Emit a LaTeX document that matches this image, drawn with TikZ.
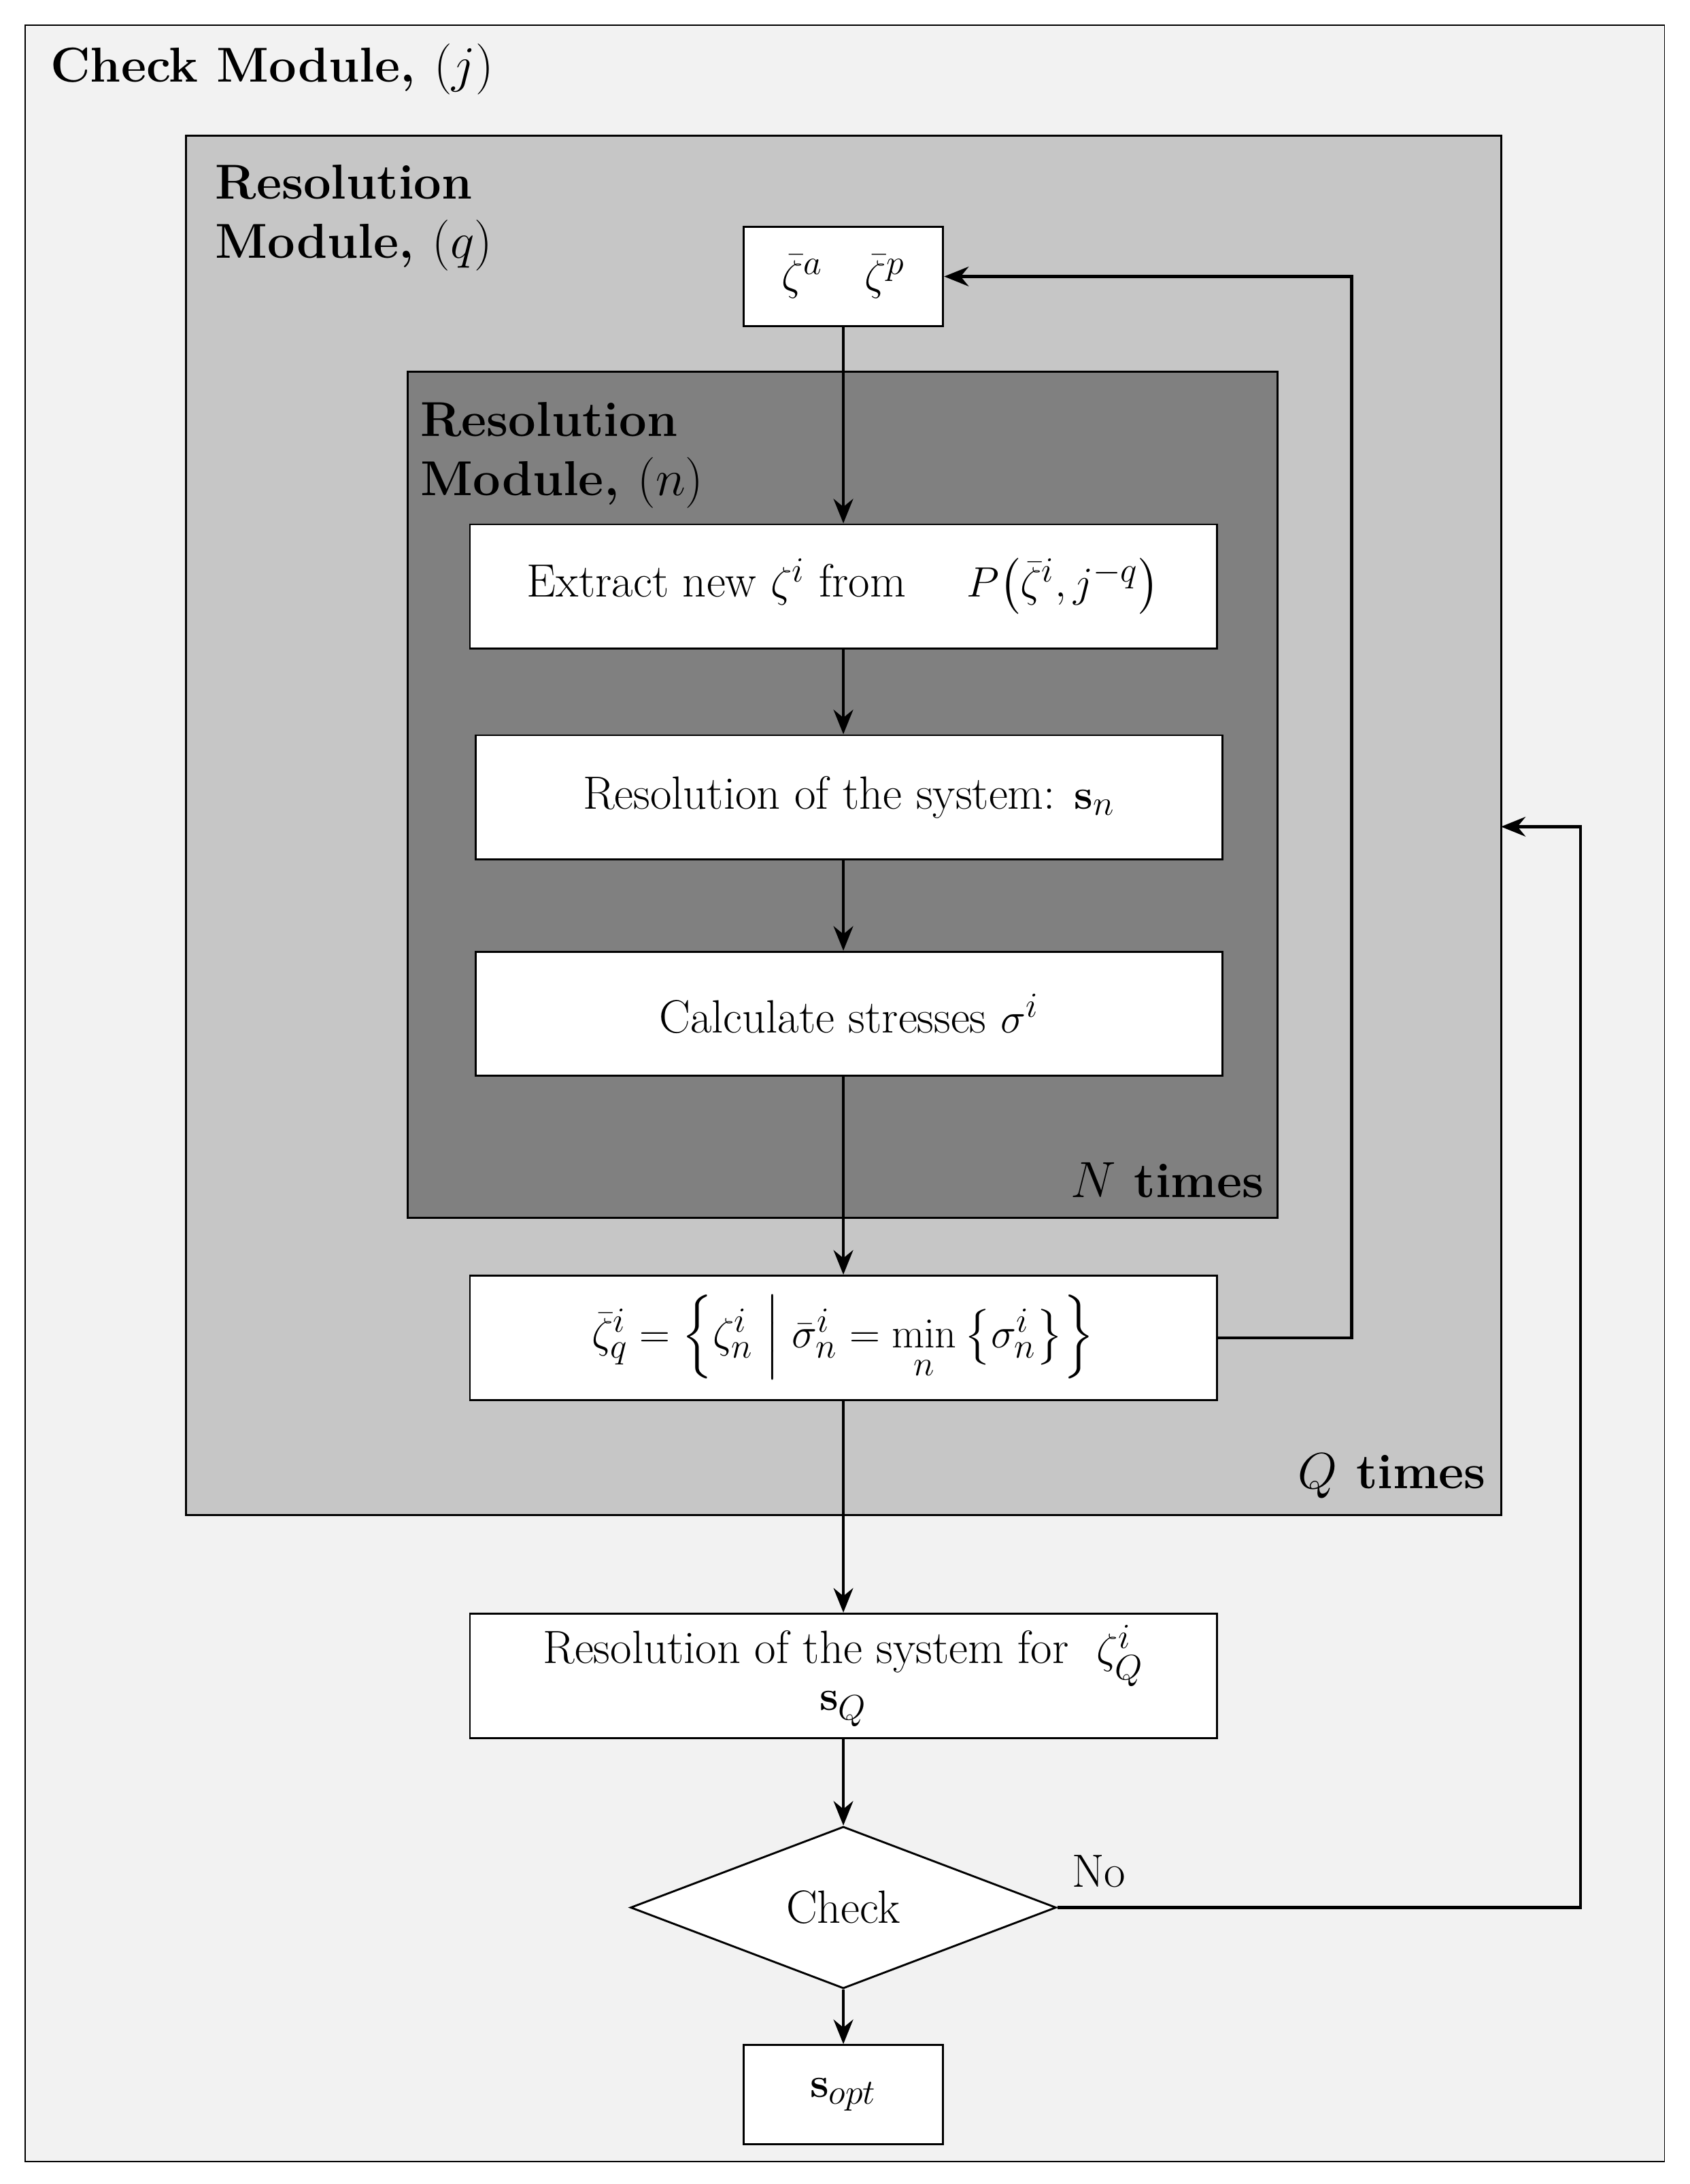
\documentclass[tikz,border=0pt]{standalone}
\usepackage{amsmath}
\usepackage{amssymb}
\usepackage{xcolor}
\usetikzlibrary{arrows.meta, shapes.geometric, positioning, calc}
\begin{document}
\begin{tikzpicture}[
      x=0.02cm, y=-0.02cm,
      >=Stealth,
      font=\fontsize{19}{23}\selectfont,
      blk/.style={draw, thick, fill=white, minimum width=10.7cm, minimum height=1.78cm, align=center, inner sep=2pt},
      sml/.style={draw, thick, fill=white, minimum width=2.86cm, minimum height=1.42cm, inner sep=2pt},
      arr/.style={->, very thick, >={Stealth[length=10pt,width=8pt]}},
      lbl/.style={anchor=north west, align=left, font=\fontsize{20}{24}\selectfont\bfseries}
    ]
    \useasboundingbox (0,0) rectangle (1210,1564);
    % --- Module frames ---
    \draw[fill=gray!10] (18,18) rectangle (1192,1548);
    \draw[thick, fill=gray!45] (133,97) rectangle (1075,1085);
    \draw[thick, fill=black!50] (292,266) rectangle (915,872);
    \node[lbl] (chk) at (30,25) {Check Module, $(j)$};
    \node[lbl] (rq) at (148,112) {Resolution\\Module, $(q)$};
    \node[lbl] (rn) at (295,282) {Resolution\\Module, $(n)$};
    \node[font=\fontsize{20}{24}\selectfont\bfseries] (nt) at (836,845) {$N$ times};
    \node[font=\fontsize{20}{24}\selectfont\bfseries] (qt) at (997,1057) {$Q$ times};

    % --- Blocks ---
    \node[sml] (zeta) at (604,198) {$\bar\zeta^{a}\ \ \ \bar\zeta^{p}$};
    \node[blk] (ext) at (604,420) {Extract new $\zeta^{i}$ from \quad $P\!\left(\bar\zeta^{i}, j^{-q}\right)$};
    \node[blk] (res) at (608,571) {Resolution of the system: $\mathbf{s}_{n}$};
    \node[blk] (cal) at (608,726) {Calculate stresses $\sigma^{i}$};
    \node[blk] (min) at (604,958) {$\bar\zeta^{i}_{q} = \left\{\zeta^{i}_{n} \;\middle|\; \bar\sigma^{i}_{n} = \min\limits_{n}\left\{\sigma^{i}_{n}\right\}\right\}$};
    \node[blk] (rsq) at (604,1200) {Resolution of the system for \ $\zeta^{i}_{Q}$\\[-4pt]$\mathbf{s}_{Q}$};
    \node[draw, thick, fill=white, diamond, aspect=2.6, minimum width=6.1cm, minimum height=2.32cm, inner sep=0pt] (chkd) at (604,1366) {Check};
    \node[sml] (sopt) at (604,1500) {$\mathbf{s}_{opt}$};
    \coordinate (qin) at (1075,592);

    % --- Arrows ---
    \draw[arr] (zeta) -- (ext);
    \draw[arr] (ext) -- (res.north -| ext);
    \draw[arr] (res.south -| ext) -- (cal.north -| ext);
    \draw[arr] (cal.south -| ext) -- (min);
    \draw[arr] (min) -- (rsq);
    \draw[arr] (rsq) -- (chkd);
    \draw[arr] (chkd) -- (sopt);
    \draw[arr] (min.east) -- (968,958) |- (zeta.east);
    \draw[arr] (chkd.east) -- (1132,1366) |- (qin);
    \node (no) at (787,1340) {No};
  \end{tikzpicture}
\end{document}
